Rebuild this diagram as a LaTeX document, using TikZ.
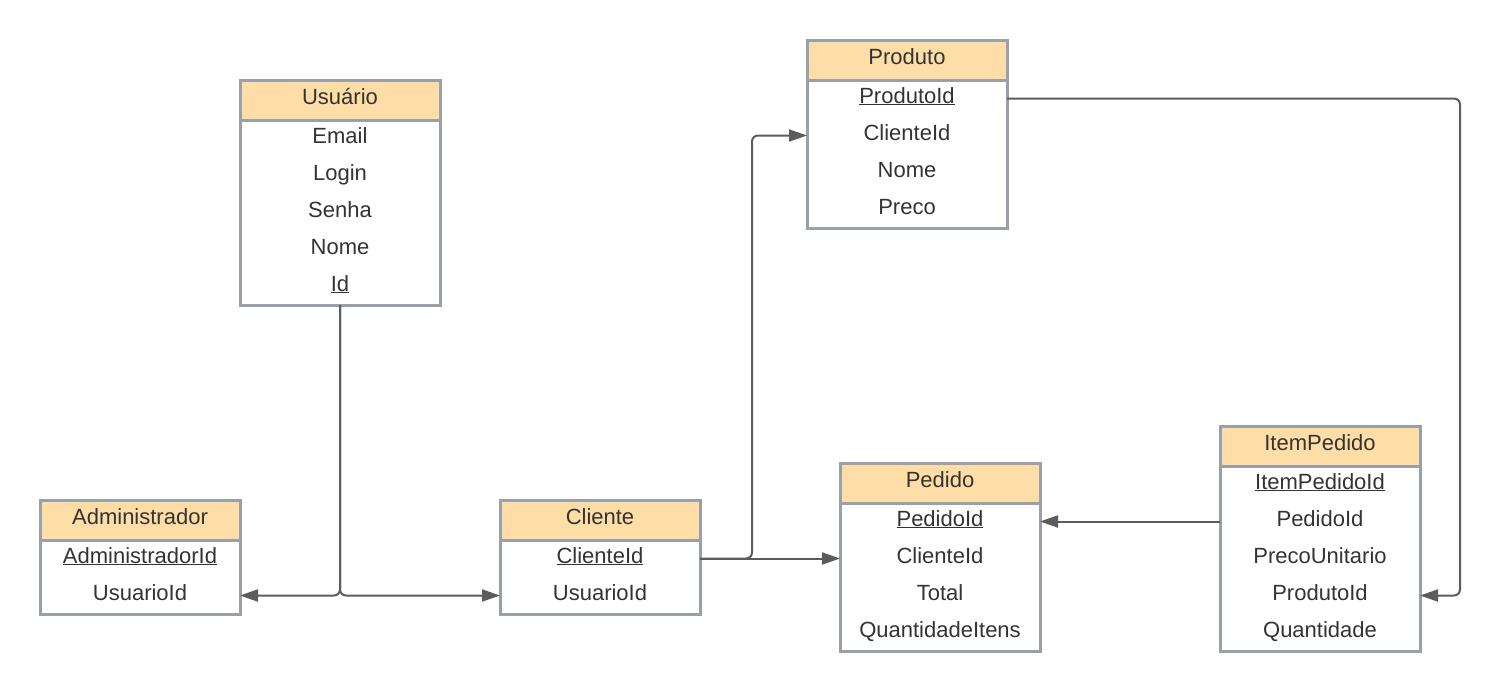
\documentclass[tikz,border=0pt]{standalone}
\usepackage{fontspec}
\setmainfont{Liberation Sans}
\usetikzlibrary{positioning,arrows.meta}

\definecolor{boxgray}{HTML}{9AA0A9}
\definecolor{headfill}{HTML}{FFDDA6}
\definecolor{linegray}{HTML}{5C5C5C}
\definecolor{txtgray}{HTML}{333333}

\tikzset{
  tabhead/.style={draw=boxgray,fill=headfill,line width=3pt,minimum width=200pt,minimum height=40pt,
    inner sep=0pt,outer sep=0pt,text=txtgray,font=\fontsize{22}{26}\selectfont,text height=14pt,text depth=5pt},
  field/.style={minimum width=200pt,minimum height=37pt,inner sep=0pt,outer sep=0pt,
    text=txtgray,font=\fontsize{22}{26}\selectfont,text height=14pt,text depth=5pt},
  tabbody/.style={draw=boxgray,line width=3pt},
  conn/.style={draw=linegray,line width=2pt,rounded corners=6pt,-{Triangle[length=18pt,width=12pt]}}
}

\begin{document}
\begin{tikzpicture}[x=1pt,y=-1pt]
  \useasboundingbox (0,0) rectangle (1502,691);

  % Usuario
  \node[tabhead] (usr-h) at (340,100) {Usuário};
  \foreach \t [count=\i] in {Email, Login, Senha, Nome, \underline{Id}} {
    \node[field] (usr-\i) at (340,{101.5+37*\i}) {\t};
  }
  \draw[tabbody] (usr-h.south west) rectangle (usr-5.south east);

  % Administrador
  \node[tabhead] (adm-h) at (140,520) {Administrador};
  \foreach \t [count=\i] in {\underline{AdministradorId}, UsuarioId} {
    \node[field] (adm-\i) at (140,{521.5+37*\i}) {\t};
  }
  \draw[tabbody] (adm-h.south west) rectangle (adm-2.south east);

  % Cliente
  \node[tabhead] (cli-h) at (600,520) {Cliente};
  \foreach \t [count=\i] in {\underline{ClienteId}, UsuarioId} {
    \node[field] (cli-\i) at (600,{521.5+37*\i}) {\t};
  }
  \draw[tabbody] (cli-h.south west) rectangle (cli-2.south east);

  % Produto
  \node[tabhead] (prd-h) at (907,60) {Produto};
  \foreach \t [count=\i] in {\underline{ProdutoId}, ClienteId, Nome, Preco} {
    \node[field] (prd-\i) at (907,{61.5+37*\i}) {\t};
  }
  \draw[tabbody] (prd-h.south west) rectangle (prd-4.south east);

  % Pedido
  \node[tabhead] (ped-h) at (940,483) {Pedido};
  \foreach \t [count=\i] in {\underline{PedidoId}, ClienteId, Total, QuantidadeItens} {
    \node[field] (ped-\i) at (940,{484.5+37*\i}) {\t};
  }
  \draw[tabbody] (ped-h.south west) rectangle (ped-4.south east);

  % ItemPedido
  \node[tabhead] (itm-h) at (1320,446) {ItemPedido};
  \foreach \t [count=\i] in {\underline{ItemPedidoId}, PedidoId, PrecoUnitario, ProdutoId, Quantidade} {
    \node[field] (itm-\i) at (1320,{447.5+37*\i}) {\t};
  }
  \draw[tabbody] (itm-h.south west) rectangle (itm-5.south east);

  % relacoes
  \draw[conn] (usr-5.south) |- (adm-2.east);
  \draw[conn] (usr-5.south) |- (cli-2.west);
  \draw[conn] (cli-1.east) -- ++(52,0) |- (prd-2.west);
  \draw[conn] (cli-1.east) -- (ped-2.west);
  \draw[conn] (itm-2.west) -- (ped-1.east);
  \draw[conn] (prd-1.east) -- ++(453,0) |- (itm-4.east);
\end{tikzpicture}
\end{document}
